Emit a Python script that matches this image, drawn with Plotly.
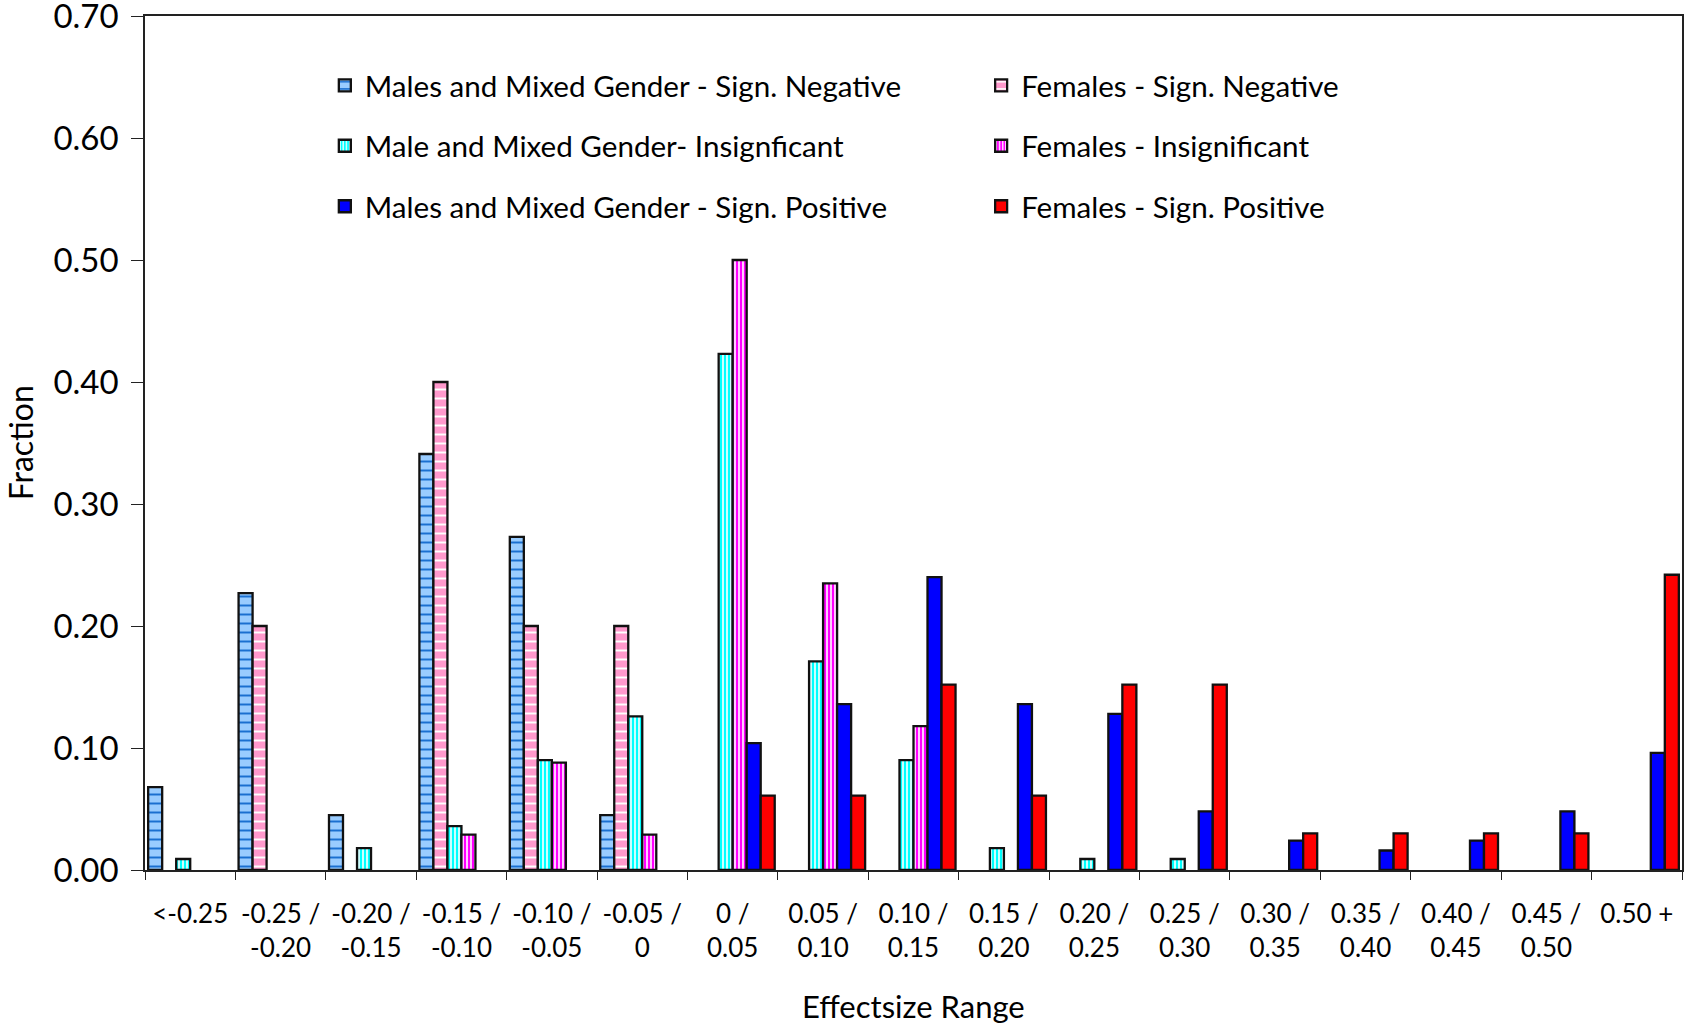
import plotly.graph_objects as go

categories = ["<-0.25", "-0.25 /<br>-0.20", "-0.20 /<br>-0.15", "-0.15 /<br>-0.10",
              "-0.10 /<br>-0.05", "-0.05 /<br>0", "0 /<br>0.05", "0.05 /<br>0.10",
              "0.10 /<br>0.15", "0.15 /<br>0.20", "0.20 /<br>0.25", "0.25 /<br>0.30",
              "0.30 /<br>0.35", "0.35 /<br>0.40", "0.40 /<br>0.45", "0.45 /<br>0.50", "0.50 +"]

males_neg = [0.068, 0.227, 0.045, 0.341, 0.273, 0.045, None, None, None, None, None, None, None, None, None, None, None]
females_neg = [None, 0.200, None, 0.400, 0.200, 0.200, None, None, None, None, None, None, None, None, None, None, None]
males_ins = [0.009, None, 0.018, 0.036, 0.090, 0.126, 0.423, 0.171, 0.090, 0.018, 0.009, 0.009, None, None, None, None, None]
females_ins = [None, None, None, 0.029, 0.088, 0.029, 0.500, 0.235, 0.118, None, None, None, None, None, None, None, None]
males_pos = [None, None, None, None, None, None, 0.104, 0.136, 0.240, 0.136, 0.128, 0.048, 0.024, 0.016, 0.024, 0.048, 0.096]
females_pos = [None, None, None, None, None, None, 0.061, 0.061, 0.152, 0.061, 0.152, 0.152, 0.030, 0.030, 0.030, 0.030, 0.242]

y_ticks = [0.0, 0.1, 0.2, 0.3, 0.4, 0.5, 0.6, 0.7]
y_ticklabels = ["0.00", "0.10", "0.20", "0.30", "0.40", "0.50", "0.60", "0.70"]

FONT = "Lato"
fig = go.Figure()

def add(name, vals, color, legend, shape="", fg="white", size=8, solidity=0.3):
    pattern = dict(shape=shape, fgcolor=fg, bgcolor=color, size=size, solidity=solidity, fillmode="replace")
    fig.add_trace(go.Bar(
        x=categories, y=vals, name=name, legend=legend, legendgroup=name,
        marker=dict(color=color, line=dict(color="#111111", width=2.3), pattern=pattern),
    ))

add("Males and Mixed Gender - Sign. Negative", males_neg, "#99CCFF", "legend", "-", "#1a6fd0", 9, 0.22)
add("Females - Sign. Negative", females_neg, "#FF99CC", "legend2", "-", "#FFFFFF", 9, 0.22)
add("Male and Mixed Gender- Insignficant", males_ins, "#00FFFF", "legend", "|", "#FFFFFF", 4, 0.4)
add("Females - Insignificant", females_ins, "#FF00FF", "legend2", "|", "#FFFFFF", 4, 0.4)
add("Males and Mixed Gender - Sign. Positive", males_pos, "#0000FF", "legend")
add("Females - Sign. Positive", females_pos, "#FF0000", "legend2")

leg_common = dict(font=dict(family=FONT, size=29.6, color="black"), bgcolor="rgba(0,0,0,0)",
                  tracegroupgap=19, yanchor="top", xanchor="left", itemwidth=30)

fig.update_layout(
    width=1684, height=1024,
    margin=dict(l=145, r=2, t=16, b=154, autoexpand=False),
    paper_bgcolor="white", plot_bgcolor="white",
    barmode="group", bargap=0.07, bargroupgap=0,
    font=dict(family=FONT, color="black"),
    legend=dict(x=0.117, y=0.949, **leg_common),
    legend2=dict(x=0.544, y=0.949, **leg_common),
    xaxis=dict(
        tickfont=dict(family=FONT, size=26, color="black"),
        showline=True, linecolor="#222222", linewidth=1.5, mirror=True,
        ticks="outside", ticklen=8, tickcolor="#222222", tickson="boundaries",
        ticklabelstandoff=20, showgrid=False, automargin=False,
    ),
    yaxis=dict(
        range=[0, 0.70], tickmode="array", tickvals=y_ticks, ticktext=y_ticklabels,
        tickfont=dict(family=FONT, size=33, color="black"),
        showline=True, linecolor="#222222", linewidth=1.5, mirror=True,
        ticks="outside", ticklen=12, tickcolor="#222222",
        ticklabelstandoff=6, ticklabeloverflow="allow",
        showgrid=False, zeroline=False, automargin=False,
    ),
    annotations=[
        dict(text="Effectsize Range", xref="paper", yref="paper", x=0.5, y=-0.159,
             xanchor="center", yanchor="middle", showarrow=False,
             font=dict(family=FONT, size=31, color="black")),
        dict(text="Fraction", xref="paper", yref="paper", x=-0.0812, y=0.5, textangle=-90,
             xanchor="center", yanchor="middle", showarrow=False,
             font=dict(family=FONT, size=32, color="black")),
    ],
)

fig.write_html("out.html", config={"displayModeBar": False},
               post_script="document.body.style.margin='0';")
